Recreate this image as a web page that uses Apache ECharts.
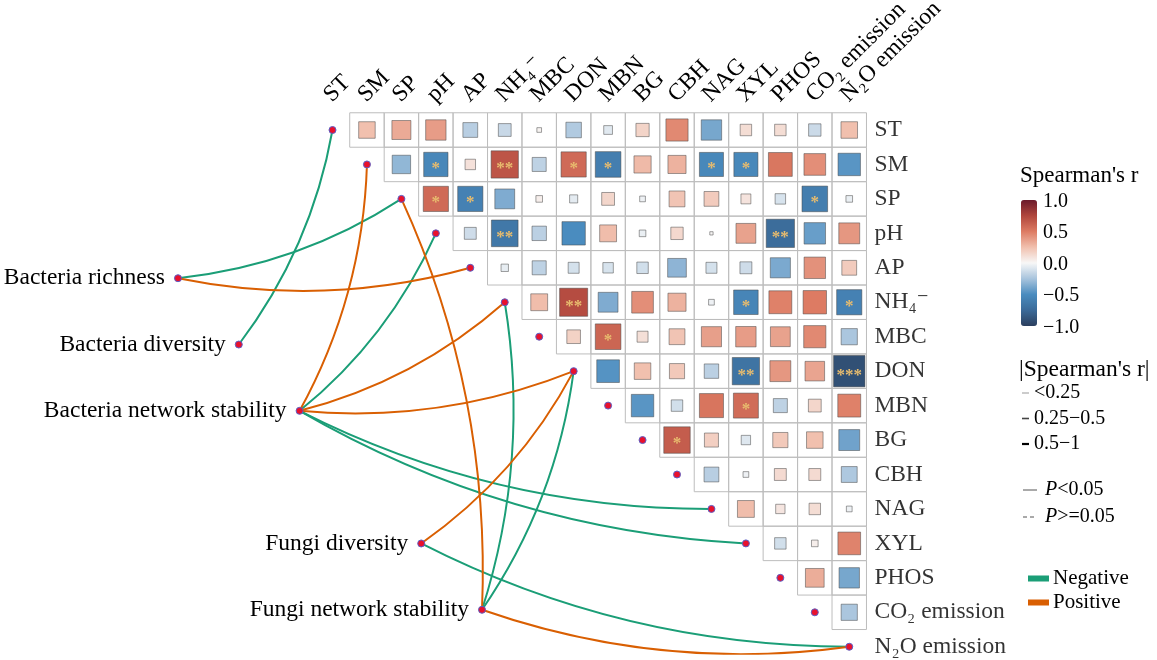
<!DOCTYPE html>
<html><head><meta charset="utf-8">
<script src="https://cdn.jsdelivr.net/npm/echarts@6/dist/echarts.min.js"></script>
<style>html,body{margin:0;padding:0;background:#fff}#c{width:1157px;height:660px}</style>
</head><body><div id="c"></div>
<script>
// ---------- data ----------
const varKeys = ['ST','SM','SP','pH','AP','NH4','MBC','DON','MBN','BG','CBH','NAG','XYL','PHOS','CO2','N2O'];
const varLabels = ['ST','SM','SP','pH','AP','NH₄⁻','MBC','DON','MBN','BG','CBH','NAG','XYL','PHOS','CO₂ emission','N₂O emission'];

// Spearman's r, upper triangle: each row lists the columns after its own variable
const rowST   = [0.25, 0.33, 0.38, -0.20, -0.15, 0.02, -0.22, -0.07, 0.16, 0.45, -0.38, 0.12, 0.12, -0.14, 0.25];
const rowSM   = [-0.31, -0.54, 0.10, 0.68, -0.18, 0.58, -0.60, 0.27, 0.30, -0.53, -0.53, 0.52, 0.43, -0.46];
const rowSP   = [0.58, -0.58, -0.36, 0.04, -0.06, 0.15, -0.03, 0.23, 0.20, 0.09, -0.10, -0.60, -0.04];
const rowPH   = [-0.13, -0.65, -0.19, -0.50, 0.26, -0.04, 0.14, 0.01, 0.36, -0.73, -0.42, 0.40];
const rowAP   = [-0.05, -0.18, -0.11, -0.10, -0.12, -0.32, -0.11, -0.13, -0.37, 0.42, 0.20];
const rowNH4  = [0.26, 0.72, -0.36, 0.43, 0.30, -0.03, -0.55, 0.48, 0.50, -0.58];
const rowMBC  = [0.17, 0.60, 0.11, 0.23, 0.37, 0.38, 0.36, 0.45, -0.24];
const rowDON  = [-0.47, 0.25, 0.21, -0.19, -0.68, 0.40, 0.35, -0.90];
const rowMBN  = [-0.46, -0.12, 0.53, 0.57, -0.18, 0.15, 0.48];
const rowBG   = [0.64, 0.18, -0.08, 0.21, 0.25, -0.40];
const rowCBH  = [-0.20, -0.03, 0.13, 0.13, -0.23];
const rowNAG  = [0.26, 0.08, 0.12, -0.03];
const rowXYL  = [-0.12, 0.04, 0.47];
const rowPHOS = [0.32, -0.38];
const rowCO2  = [-0.24];
const corrRows = [rowST,rowSM,rowSP,rowPH,rowAP,rowNH4,rowMBC,rowDON,rowMBN,rowBG,rowCBH,rowNAG,rowXYL,rowPHOS,rowCO2];

// significance marks [row, column, mark]
const significance = [
  ['SM','pH','*'],['SM','NH4','**'],['SM','DON','*'],['SM','MBN','*'],['SM','NAG','*'],['SM','XYL','*'],
  ['SP','pH','*'],['SP','AP','*'],['SP','CO2','*'],
  ['pH','NH4','**'],['pH','PHOS','**'],
  ['NH4','DON','**'],['NH4','XYL','*'],['NH4','N2O','*'],
  ['MBC','MBN','*'],
  ['DON','XYL','**'],['DON','N2O','***'],
  ['MBN','XYL','*'],
  ['BG','CBH','*']
];

// Mantel-type links
const nodes = ['Bacteria richness','Bacteria diversity','Bacteria network stability','Fungi diversity','Fungi network stability'];
const links = [
  ['Bacteria richness','SP','Negative'],
  ['Bacteria richness','AP','Positive'],
  ['Bacteria diversity','ST','Negative'],
  ['Bacteria network stability','SM','Positive'],
  ['Bacteria network stability','pH','Negative'],
  ['Bacteria network stability','NH4','Positive'],
  ['Bacteria network stability','DON','Positive'],
  ['Bacteria network stability','NAG','Negative'],
  ['Bacteria network stability','XYL','Negative'],
  ['Fungi diversity','DON','Positive'],
  ['Fungi diversity','N2O','Negative'],
  ['Fungi network stability','SP','Positive'],
  ['Fungi network stability','NH4','Negative'],
  ['Fungi network stability','DON','Negative'],
  ['Fungi network stability','N2O','Positive']
];

const colorbarTicks = [1.0, 0.5, 0.0, -0.5, -1.0];
const sizeLegend = ['<0.25','0.25−0.5','0.5−1'];

// ---------- layout ----------
const FONT = '"Liberation Serif","Times New Roman","DejaVu Serif",serif';
const CELL = 34.45;
const X_MIN = -5, X_MAX = 15.5, Y_MIN = -0.5, Y_MAX = 15.2;
const GRID_LEFT = 332.5 + X_MIN * CELL, GRID_TOP = 130 + Y_MIN * CELL;
const nodeSlots = [0, 1, 2, 4, 5];                 // positions along the node line
const NODE_START = [-4.485, 4.302], NODE_STEP = [1.765, 1.925];
const GREEN = '#1B9E77', ORANGE = '#D95F02';

// ---------- build ----------
const cellData = [], cellMarks = [];
const sigMap = {};
significance.forEach(s => { sigMap[varKeys.indexOf(s[0]) + '-' + varKeys.indexOf(s[1])] = s[2]; });
corrRows.forEach((row, i) => {
  row.forEach((r, k) => {
    const j = i + 1 + k;
    cellData.push([j, i, r]);
    cellMarks.push(sigMap[i + '-' + j] || '');
  });
});

const nodePos = name => {
  const s = nodeSlots[nodes.indexOf(name)];
  return [NODE_START[0] + s * NODE_STEP[0], NODE_START[1] + s * NODE_STEP[1]];
};
const linkData = type => links.filter(l => l[2] === type).map(l => {
  const t = varKeys.indexOf(l[1]);
  return { coords: [nodePos(l[0]), [t, t]] };
});

const chart = echarts.init(document.getElementById('c'), null, { renderer: 'canvas' });

const cbTop = 200, cbH = 126;
const graphics = [];
graphics.push({ type: 'text', x: 1020, y: 176, style: { text: "Spearman's r", font: '23px ' + FONT, fill: '#000', verticalAlign: 'middle' } });
colorbarTicks.forEach(v => {
  graphics.push({ type: 'text', x: 1043, y: cbTop + cbH / 2 - v * cbH / 2 + 1.5, style: { text: v < 0 ? '−' + Math.abs(v).toFixed(1) : v.toFixed(1), font: '20px ' + FONT, fill: '#000', verticalAlign: 'middle' } });
});
graphics.push({ type: 'text', x: 1019, y: 370, style: { text: "|Spearman's r|", font: '23.5px ' + FONT, fill: '#000', verticalAlign: 'middle' } });
const sizeWidths = [1, 1.6, 2.2], sizeColors = ['#999', '#444', '#000'];
sizeLegend.forEach((t, k) => {
  const y = 393 + k * 25.5;
  graphics.push({ type: 'line', shape: { x1: 1022, y1: y, x2: 1029, y2: y }, style: { stroke: sizeColors[k], lineWidth: sizeWidths[k] } });
  graphics.push({ type: 'text', x: 1034, y: y, style: { text: t, font: '20px ' + FONT, fill: '#000', verticalAlign: 'middle' } });
});
[['P<0.05', null, 490], ['P>=0.05', [4, 3], 517]].forEach(p => {
  graphics.push({ type: 'line', shape: { x1: 1023, y1: p[2], x2: 1037, y2: p[2] }, style: { stroke: '#555', lineWidth: 1, lineDash: p[1] } });
  graphics.push({ type: 'text', x: 1045, y: p[2], style: { text: '{i|P}' + p[0].slice(1), font: '20px ' + FONT, fill: '#000', verticalAlign: 'middle',
    rich: { i: { fontStyle: 'italic', fontFamily: FONT, fontSize: 20 } } } });
});

chart.setOption({
  animation: false,
  backgroundColor: '#fff',
  grid: { left: GRID_LEFT, top: GRID_TOP, width: (X_MAX - X_MIN) * CELL, height: (Y_MAX - Y_MIN) * CELL },
  xAxis: { type: 'value', min: X_MIN, max: X_MAX, show: false },
  yAxis: { type: 'value', min: Y_MIN, max: Y_MAX, inverse: true, show: false },
  visualMap: {
    type: 'continuous', min: -1, max: 1, dimension: 2, seriesIndex: 0,
    left: 1021, top: cbTop, itemWidth: 16, itemHeight: cbH, padding: 0,
    calculable: false, hoverLink: false, text: null, showLabel: false,
    inRange: { color: ['#2b3f5e', '#3b6a98', '#4a8cbf', '#a8c4dd', '#f7f7f7', '#f1c0ae', '#dd7b63', '#b0463c', '#6b1a2b'] }
  },
  legend: {
    orient: 'vertical', left: 1023, top: 563, itemWidth: 19, itemHeight: 4, itemGap: 3, icon: 'rect',
    textStyle: { fontFamily: FONT, fontSize: 21, color: '#000' },
    data: ['Negative', 'Positive']
  },
  graphic: graphics,
  series: [
    {
      type: 'custom', name: 'cells', coordinateSystem: 'cartesian2d', data: cellData, z: 3, clip: false,
      renderItem: (params, api) => {
        const c = api.coord([api.value(0), api.value(1)]);
        const cs = api.size([1, 1]);
        const r = api.value(2);
        const side = Math.sqrt(Math.abs(r)) * cs[0] * 0.96;
        const ch = [
          { type: 'rect', shape: { x: c[0] - cs[0] / 2, y: c[1] - cs[1] / 2, width: cs[0], height: cs[1] }, style: { fill: 'none', stroke: '#bdbdbd', lineWidth: 1 } },
          { type: 'rect', shape: { x: c[0] - side / 2, y: c[1] - side / 2, width: side, height: side }, style: { fill: api.visual('color'), stroke: 'rgba(70,70,70,0.5)', lineWidth: 1 } }
        ];
        const m = cellMarks[params.dataIndex];
        if (m) ch.push({ type: 'text', style: { text: m, x: c[0], y: c[1] + 4, align: 'center', verticalAlign: 'middle', fill: '#E8BC6E', font: 'bold 17px ' + FONT } });
        return { type: 'group', children: ch };
      }
    },
    {
      type: 'lines', name: 'Negative', coordinateSystem: 'cartesian2d', z: 2, silent: true,
      lineStyle: { color: GREEN, width: 2, opacity: 1, curveness: -0.12 }, data: linkData('Negative')
    },
    {
      type: 'lines', name: 'Positive', coordinateSystem: 'cartesian2d', z: 2, silent: true,
      lineStyle: { color: ORANGE, width: 2, opacity: 1, curveness: -0.12 }, data: linkData('Positive')
    },
    {
      type: 'scatter', name: 'diag', z: 5, clip: false, symbolSize: 7, silent: true,
      itemStyle: { color: '#E8112D', borderColor: '#5B5FC7', borderWidth: 1, opacity: 1 },
      data: varKeys.map((k, i) => [i, i])
    },
    {
      type: 'scatter', name: 'nodes', z: 5, clip: false, symbolSize: 7, silent: true,
      itemStyle: { color: '#E8112D', borderColor: '#5B5FC7', borderWidth: 1, opacity: 1 },
      label: { show: true, position: 'left', distance: 9, formatter: p => p.name, fontFamily: FONT, fontSize: 23.5, color: '#000' },
      data: nodes.map(n => ({ name: n, value: nodePos(n) }))
    },
    {
      type: 'scatter', name: 'rowLabels', z: 5, clip: false, symbolSize: 0, silent: true,
      label: { show: true, position: 'right', distance: 8, formatter: p => varLabels[p.dataIndex], fontFamily: FONT, fontSize: 23.5, color: '#000' },
      data: varKeys.map((k, i) => [X_MAX, i])
    },
    {
      type: 'custom', name: 'colLabels', coordinateSystem: 'cartesian2d', z: 5, clip: false, silent: true,
      data: varKeys.map((k, i) => [i, Y_MIN]),
      renderItem: (params, api) => {
        const c = api.coord([api.value(0), api.value(1)]);
        return { type: 'text', x: c[0] + 3.5, y: c[1] - 6, rotation: Math.PI / 4,
          style: { text: varLabels[params.dataIndex], x: 0, y: 0, align: 'left', verticalAlign: 'bottom', fill: '#000', font: '23.5px ' + FONT } };
      }
    }
  ]
});
</script></body></html>
